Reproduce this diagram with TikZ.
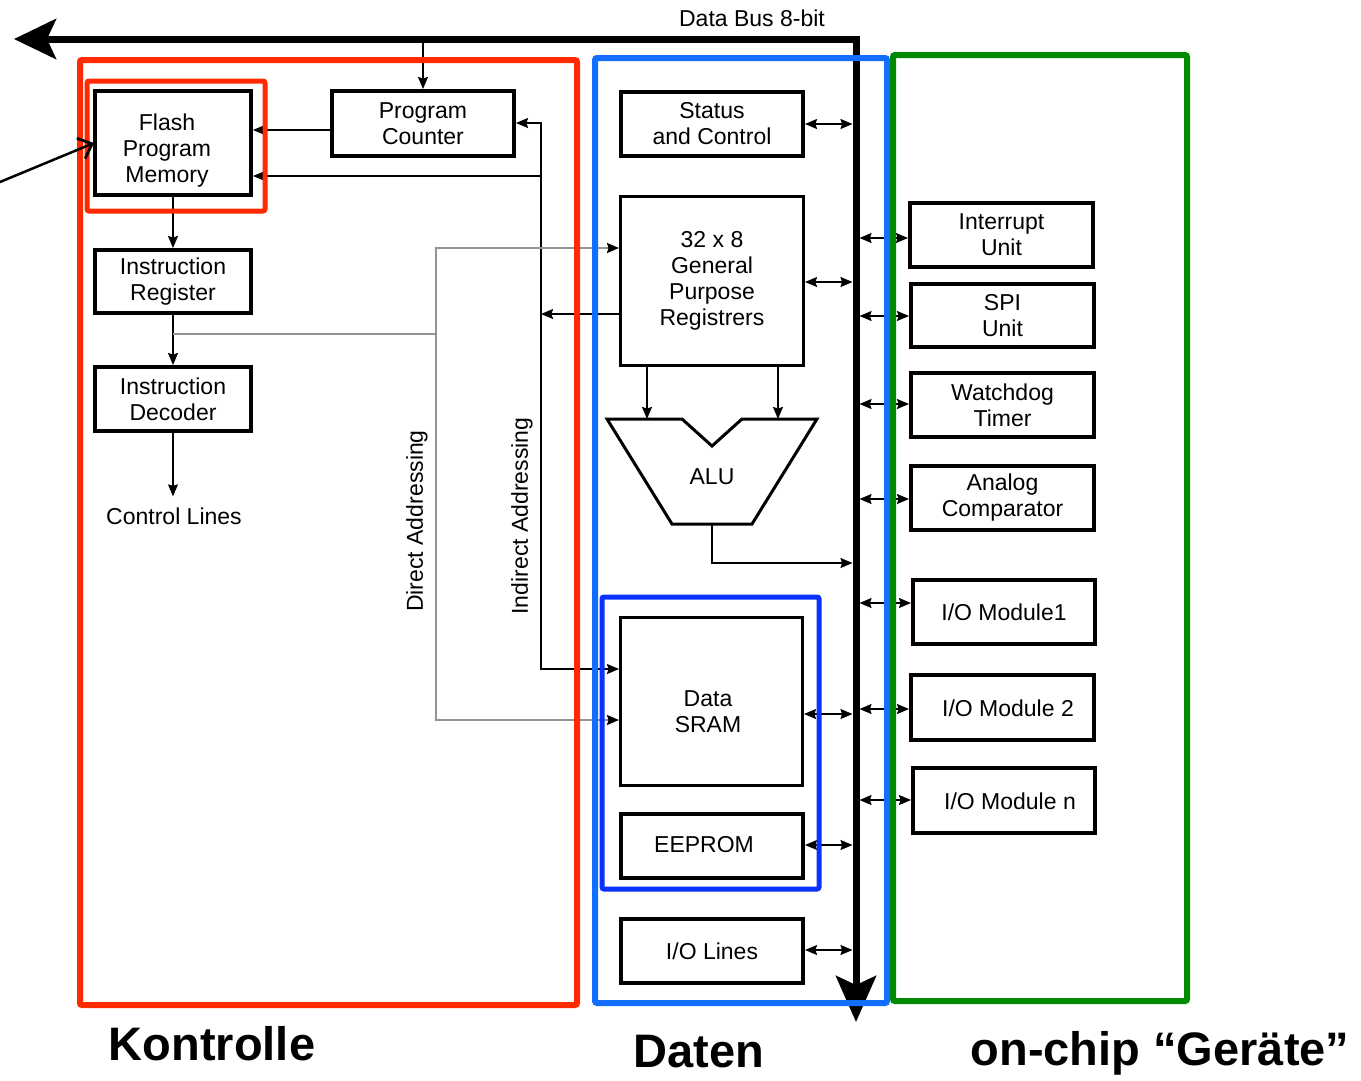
\documentclass[tikz,border=0pt]{standalone}
\usepackage{fontspec}
\setmainfont{Liberation Sans}
\usetikzlibrary{arrows.meta,calc}
\newcommand\bxf{\fontsize{23}{26}\selectfont}
\newcommand\bigf{\fontsize{47}{50}\selectfont\bfseries}
\definecolor{kred}{HTML}{FF2A00}
\definecolor{dblue}{HTML}{126EFF}
\definecolor{iblue}{HTML}{0A32FF}
\definecolor{ggreen}{HTML}{008A00}
\begin{document}
\begin{tikzpicture}[x=1pt,y=-1pt,
  >={Stealth[length=12pt,width=10pt,inset=1.5pt]},
  blk/.style={draw, line width=4pt, fill=white, align=center, font=\bxf, inner sep=0pt},
  tblk/.style={blk, line width=3pt},
  conn/.style={line width=1.3pt, ->},
  dconn/.style={line width=1.3pt, <->},
  gconn/.style={line width=2pt, draw=gray!85, -{Stealth[length=12pt,width=10pt,inset=1.5pt,color=black]}},
  gline/.style={line width=2pt, draw=gray!85},
  frame/.style={line width=6pt, rounded corners=2pt},
  lbl/.style={font=\bxf, inner sep=2pt, align=center},
  big/.style={font=\bigf, anchor=base, inner sep=0pt}]
\useasboundingbox (0,0) rectangle (1361,1080);

% ---------------- data bus
\coordinate (busL) at (14,39);
\coordinate (busC) at (856,39);
\coordinate (busB) at (856,1022);
\draw[line width=7pt, line join=miter,
  {Stealth[length=42pt,width=40pt,inset=9pt]}-{Stealth[length=46pt,width=40pt,inset=9pt]}]
  (busL) -- (busC) -- (busB);
\node[lbl] (dbt) at (752,18) {Data Bus 8-bit};

% ---------------- Kontrolle
\node[blk, minimum width=156pt, minimum height=104pt] (flash) at (173,143) {};
\node[lbl] (flasht) at (167,151) {Flash\\Program\\Memory};
\node[blk, minimum width=182pt, minimum height=65pt] (pc) at (423,123.5) {Program\\Counter};
\node[blk, minimum width=156pt, minimum height=63pt] (ir) at (173,281.5) {Instruction\\Register};
\node[blk, minimum width=156pt, minimum height=64pt] (id) at (173,399) {Instruction\\Decoder};
\node[lbl] (ctrl) at (174,516) {Control Lines};

% ---------------- Daten
\node[blk, minimum width=182pt, minimum height=64pt] (stat) at (712,124) {Status\\and Control};
\node[tblk, minimum width=183pt, minimum height=169pt] (gpr) at (712,281) {32 x 8\\General\\Purpose\\Registrers};
\draw[line width=3pt, line join=miter, fill=white]
  (607,419) -- (682,419) -- (712,446) -- (742,419) -- (817,419) -- (752,524) -- (672,524) -- cycle;
\node[lbl] (alu) at (712,477) {ALU};
\coordinate (aluA) at (647,419);
\coordinate (aluB) at (778,419);
\coordinate (aluOut) at (712,524);
\coordinate (aluBus) at (856,563);
\node[tblk, minimum width=182pt, minimum height=168pt] (sram) at (711.5,701.5) {};
\node[lbl] (sramt) at (708,712) {Data\\SRAM};
\node[blk, minimum width=182pt, minimum height=64pt] (eep) at (712,846) {};
\node[lbl] (eept) at (704,845) {EEPROM};
\node[blk, minimum width=182pt, minimum height=64pt] (iol) at (712,951) {I/O Lines};

% ---------------- on-chip devices
\node[blk, minimum width=183pt, minimum height=64pt] (intr) at (1001.5,235) {Interrupt\\Unit};
\node[blk, minimum width=183pt, minimum height=63pt] (spi) at (1002.5,315.5) {SPI\\Unit};
\node[blk, minimum width=183pt, minimum height=64pt] (wd) at (1002.5,405) {Watchdog\\Timer};
\node[blk, minimum width=183pt, minimum height=64pt] (ana) at (1002.5,498) {Analog\\Comparator};
\node[blk, minimum width=182pt, minimum height=64pt] (m1) at (1004,612) {I/O Module1};
\node[blk, minimum width=183pt, minimum height=65pt] (m2) at (1002.5,707.5) {};
\node[lbl] (m2t) at (1008,708) {I/O Module 2};
\node[blk, minimum width=182pt, minimum height=65pt] (mn) at (1004,800.5) {};
\node[lbl] (mnt) at (1010,801) {I/O Module n};

% ---------------- control connectors
\draw[conn] (pc.north |- busC) -- (pc.north);
\coordinate (pcF) at ($(pc.west)+(0,6.5)$);
\draw[conn] (pcF) -- (pcF -| flash.east);
\draw[conn] (flash.south) -- (ir.north);
\draw[conn] (ir.south) -- (id.north);
\coordinate (ctrlT) at ([yshift=9pt]ctrl.north);
\draw[conn] (id.south) -- (id.south |- ctrlT);

% indirect addressing
\coordinate (indT) at (541,123);
\coordinate (indF) at (541,176);
\coordinate (indJ) at (541,314);
\coordinate (indB) at (541,669);
\draw[conn] (gpr.west |- indJ) -- (indJ);
\draw[conn] (indJ) -- (indT) -- (pc.east |- indT);
\draw[conn] (indF) -- (flash.east |- indF);
\draw[conn] (indJ) -- (indB) -- (sram.west |- indB);
\node[lbl, rotate=90] (ial) at (522,516) {Indirect Addressing};

% direct addressing
\coordinate (dirJ) at (436,334);
\coordinate (dirT) at (436,248);
\coordinate (dirB) at (436,720);
\draw[gline] (ir.south |- dirJ) -- (dirJ);
\draw[gconn] (dirJ) -- (dirT) -- (gpr.west |- dirT);
\draw[gconn] (dirJ) -- (dirB) -- (sram.west |- dirB);
\node[lbl, rotate=90] (dal) at (417,521) {Direct Addressing};

% ---------------- data connectors
\draw[conn] (gpr.south -| aluA) -- (aluA);
\draw[conn] (gpr.south -| aluB) -- (aluB);
\draw[conn, shorten >=3.5pt] (aluOut) |- (aluBus);
\foreach \n/\dy in {stat/0, gpr/1, sram/12.5, eep/-1, iol/-1}{
  \coordinate (t) at ($(\n.east)+(0,\dy)$);
  \draw[dconn, shorten >=3.5pt] (t) -- (t -| busC);
}
\foreach \n/\dy in {intr/3, spi/0.5, wd/-1, ana/1, m1/-9, m2/1.5, mn/-0.5}{
  \coordinate (t) at ($(\n.west)+(0,\dy)$);
  \draw[dconn, shorten <=3.5pt] (t -| busC) -- (t);
}

% ---------------- frames
\draw[frame, draw=kred] (80,60) rectangle (577,1005);
\draw[frame, draw=kred, line width=5pt] (87,81) rectangle (265,211);
\draw[frame, draw=dblue] (595,58) rectangle (887,1003);
\draw[frame, draw=iblue, line width=5pt] (602,597) rectangle (819,889);
\draw[frame, draw=ggreen] (893,55) rectangle (1187,1001);

% ---------------- pointer to the flash memory
\coordinate (inc) at (0,182);
\draw[line width=2.5pt, line cap=round, -{Straight Barb[length=12pt,width=22pt,line width=2.8pt]}] (inc) -- ([xshift=1pt]flash.west);

% ---------------- group labels
\node[big] (lk) at (212,1060) {Kontrolle};
\node[big] (ld) at (699,1067) {Daten};
\node[big] (lg) at (1160,1065) {on-chip “Geräte”};
\end{tikzpicture}
\end{document}
